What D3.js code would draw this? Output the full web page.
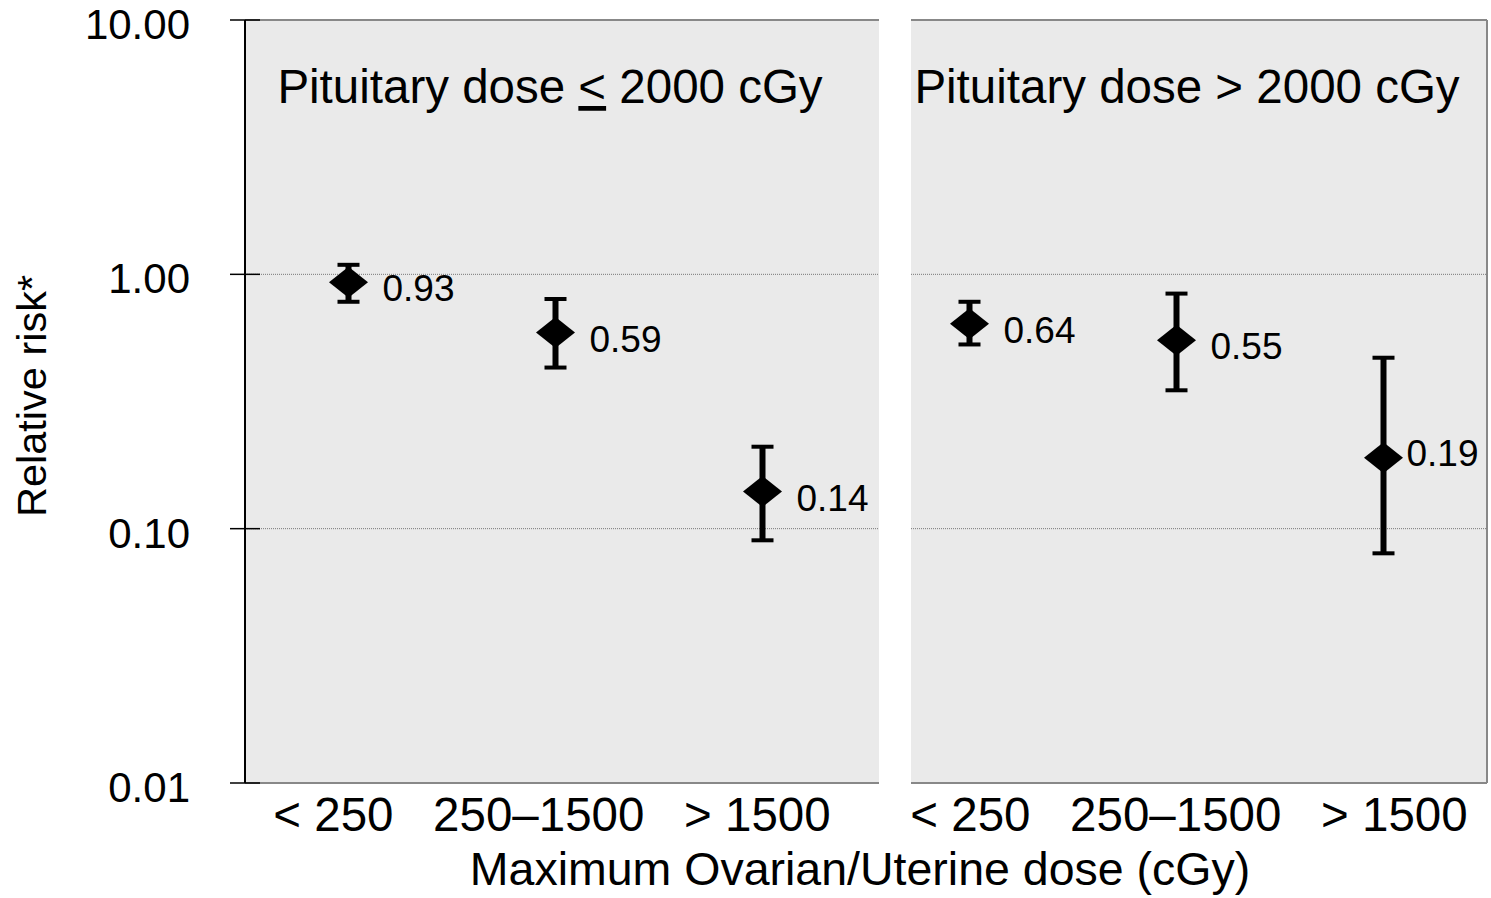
<!DOCTYPE html>
<html>
<head>
<meta charset="utf-8">
<script src="https://cdn.jsdelivr.net/npm/d3@7"></script>
<style>
  body { margin: 0; background: #fff; }
  text { font-family: "Liberation Sans", Arial, sans-serif; fill: #000; }
</style>
</head>
<body>
<div id="chart"></div>
<script>
// data
const panelTitles = ["Pituitary dose ≤ 2000 cGy", "Pituitary dose > 2000 cGy"];
const doseGroups = ["< 250", "250–1500", "> 1500"];
const rrLowPit = [0.93, 0.59, 0.14];
const ciLoLowPit = [0.78, 0.43, 0.09];
const ciHiLowPit = [1.09, 0.80, 0.21];
const rrHighPit = [0.64, 0.55, 0.19];
const ciLoHighPit = [0.53, 0.35, 0.08];
const ciHiHighPit = [0.78, 0.84, 0.47];
const yTicks = [0.01, 0.1, 1, 10];
const gridTicks = [0.1, 1];
const yTitle = "Relative risk*";
const xTitle = "Maximum Ovarian/Uterine dose (cGy)";

const width = 1491, height = 898;
const plotLeft = 245, plotRight = 1487, plotTop = 20, plotBottom = 783;

const svg = d3.select("#chart").append("svg")
  .attr("width", width)
  .attr("height", height);

// build rows
const series = [
  { rr: rrLowPit, lo: ciLoLowPit, hi: ciHiLowPit },
  { rr: rrHighPit, lo: ciLoHighPit, hi: ciHiHighPit }
];
const points = [];
series.forEach((s, p) => {
  doseGroups.forEach((g, i) => {
    points.push({ key: p + "|" + g, panel: p, group: g, rr: s.rr[i], lo: s.lo[i], hi: s.hi[i] });
  });
});

const x = d3.scaleBand()
  .domain(points.map(d => d.key))
  .range([plotLeft, plotRight]);

const y = d3.scaleLog()
  .domain([0.01, 10])
  .range([plotBottom, plotTop]);

// panel extents (left panel ends a bit after 3rd band, right starts a bit after)
const panelBox = [
  { x0: plotLeft, x1: x(points[2].key) + x.bandwidth() + 13 },
  { x0: x(points[3].key) + 45, x1: plotRight }
];

// backgrounds
svg.selectAll(".panel-bg")
  .data(panelBox)
  .join("rect")
  .attr("class", "panel-bg")
  .attr("x", d => d.x0)
  .attr("y", plotTop)
  .attr("width", d => d.x1 - d.x0)
  .attr("height", plotBottom - plotTop)
  .attr("fill", "#eaeaea");

// top/bottom gray borders
panelBox.forEach(b => {
  [plotTop, plotBottom].forEach(yy => {
    svg.append("line")
      .attr("x1", b.x0).attr("x2", b.x1)
      .attr("y1", yy).attr("y2", yy)
      .attr("stroke", "#888").attr("stroke-width", 2);
  });
});
svg.append("line")
  .attr("x1", panelBox[1].x1).attr("x2", panelBox[1].x1)
  .attr("y1", plotTop).attr("y2", plotBottom)
  .attr("stroke", "#888").attr("stroke-width", 2);

// gridlines
panelBox.forEach(b => {
  svg.selectAll(null)
    .data(gridTicks)
    .join("line")
    .attr("x1", b.x0).attr("x2", b.x1)
    .attr("y1", d => y(d)).attr("y2", d => y(d))
    .attr("stroke", "#777")
    .attr("stroke-width", 1)
    .attr("stroke-dasharray", "1,1");
});

// y axis
svg.append("line")
  .attr("x1", plotLeft).attr("x2", plotLeft)
  .attr("y1", plotTop).attr("y2", plotBottom)
  .attr("stroke", "#000").attr("stroke-width", 2);

svg.selectAll(".ytick")
  .data(yTicks)
  .join("line")
  .attr("class", "ytick")
  .attr("x1", plotLeft - 15).attr("x2", plotLeft + 15)
  .attr("y1", d => y(d)).attr("y2", d => y(d))
  .attr("stroke", "#000").attr("stroke-width", 1.5);

svg.selectAll(".ylabel")
  .data(yTicks)
  .join("text")
  .attr("class", "ylabel")
  .attr("x", 190)
  .attr("y", d => y(d) + 19)
  .attr("text-anchor", "end")
  .style("font-size", "42px")
  .text(d => d3.format(".2f")(d));

svg.append("text")
  .attr("transform", `translate(46,396) rotate(-90)`)
  .attr("text-anchor", "middle")
  .style("font-size", "41.5px")
  .text(yTitle);

// panel titles, "≤" drawn as underlined "<"
panelTitles.forEach((t, p) => {
  const cx = (panelBox[p].x0 + panelBox[p].x1) / 2 - 12;
  const txt = svg.append("text")
    .attr("x", cx)
    .attr("y", 103)
    .attr("text-anchor", "middle")
    .style("font-size", "47.5px");
  const parts = t.split("≤");
  if (parts.length > 1) {
    txt.append("tspan").text(parts[0]);
    txt.append("tspan").style("text-decoration", "underline").text("<");
    txt.append("tspan").text(parts[1]);
  } else {
    txt.text(t);
  }
});

// category labels, one string per panel
panelBox.forEach((b, p) => {
  svg.append("text")
    .attr("x", (b.x0 + b.x1) / 2 - 10)
    .attr("y", 831)
    .attr("text-anchor", "middle")
    .style("font-size", "47.5px")
    .style("white-space", "pre")
    .text(doseGroups.join("   "));
});

svg.append("text")
  .attr("x", (plotLeft + plotRight) / 2 - 6)
  .attr("y", 885)
  .attr("text-anchor", "middle")
  .style("font-size", "46.5px")
  .text(xTitle);

// error bars
const cx = d => x(d.key) + x.bandwidth() / 2;
const capW = 11;

svg.selectAll(".stem")
  .data(points)
  .join("line")
  .attr("class", "stem")
  .attr("x1", cx).attr("x2", cx)
  .attr("y1", d => y(d.hi)).attr("y2", d => y(d.lo))
  .attr("stroke", "#000").attr("stroke-width", 6);

["hi", "lo"].forEach(k => {
  svg.selectAll(".cap-" + k)
    .data(points)
    .join("line")
    .attr("class", "cap-" + k)
    .attr("x1", d => cx(d) - capW).attr("x2", d => cx(d) + capW)
    .attr("y1", d => y(d[k])).attr("y2", d => y(d[k]))
    .attr("stroke", "#000").attr("stroke-width", 4);
});

// diamonds
svg.selectAll(".marker")
  .data(points)
  .join("path")
  .attr("class", "marker")
  .attr("d", "M-19.5,0L0,-15.5L19.5,0L0,15.5Z")
  .attr("transform", d => `translate(${cx(d)},${y(d.rr)})`)
  .attr("fill", "#000");

// value labels (last one sits tighter to its marker)
svg.selectAll(".vlabel")
  .data(points)
  .join("text")
  .attr("class", "vlabel")
  .attr("x", (d, i) => cx(d) + (i === points.length - 1 ? 23 : 34))
  .attr("y", (d, i) => y(d.rr) + (i === points.length - 1 ? 8.5 : 19))
  .style("font-size", "37px")
  .text(d => d3.format(".2f")(d.rr));
</script>
</body>
</html>
